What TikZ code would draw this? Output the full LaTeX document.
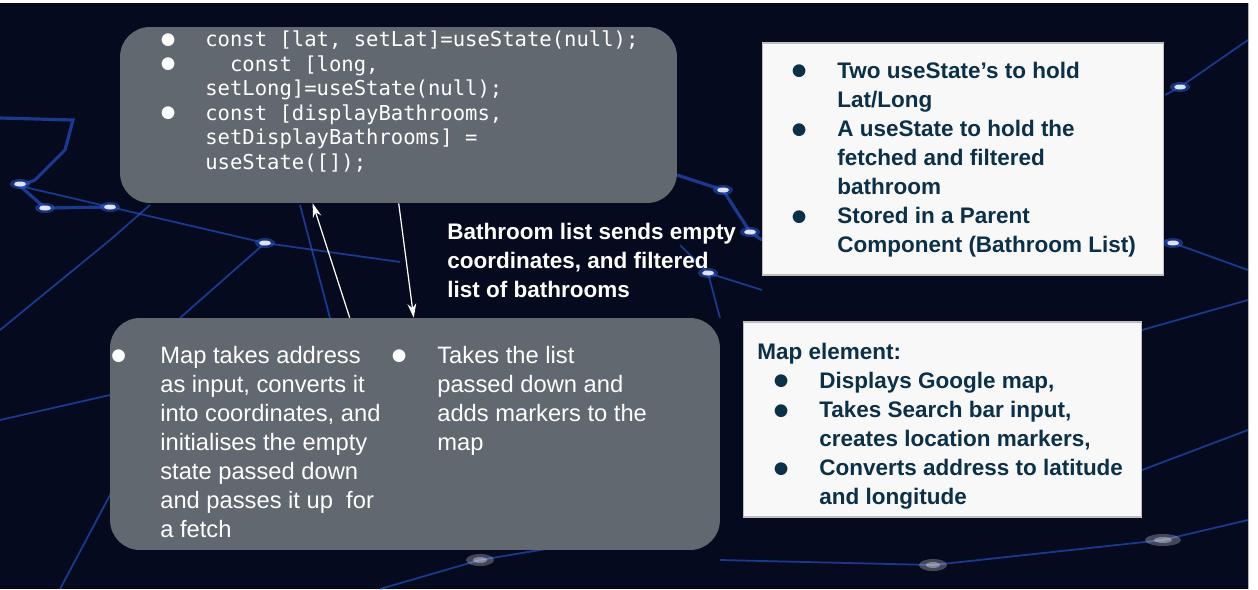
\documentclass[tikz,border=0pt]{standalone}
\usepackage{fontspec}
\setmainfont{Liberation Sans}
\newfontfamily\codefont{DejaVu Sans Mono}
\newfontfamily\dotfont{DejaVu Sans}
\usepackage{array}
\usetikzlibrary{arrows.meta, calc}
\definecolor{night}{HTML}{050A1F}
\definecolor{slate}{HTML}{62686F}
\definecolor{paper}{HTML}{F8F8F8}
\definecolor{ink}{HTML}{0D3049}
\definecolor{wire}{HTML}{2A5BD8}
\newcommand{\listbul}{\raisebox{1.3pt}{\dotfont\fontsize{9.5pt}{9.5pt}\selectfont ●}}

\begin{document}
\begin{tikzpicture}[x=0.02cm, y=-0.02cm,
    slatebox/.style={fill=slate, rounded corners=17pt, inner sep=0pt},
    paperbox/.style={fill=paper, draw=black!25, line width=0.6pt, inner sep=0pt},
    listtext/.style={anchor=base west, inner sep=0pt},
    codetext/.style={listtext, text=white, font=\codefont\fontsize{11.7pt}{13.95pt}\selectfont},
    notetext/.style={listtext, text=ink, font=\bfseries\fontsize{12.8pt}{16.6pt}\selectfont},
    maptext/.style={listtext, text=white, font=\fontsize{13.5pt}{16.55pt}\selectfont},
    wires/.style={wire, opacity=0.6, line width=1pt},
    glow/.style={white, opacity=0.85}]
    \useasboundingbox (0,0) rectangle (1258,589);
    \fill[white] (0,0) rectangle (1258,589);
    \fill[night] (0,3) rectangle (1248,589);
    \draw[black!30, line width=0.6pt] (1248.5,3) -- (1248.5,589);

    \draw[wires, line width=1.8pt] (0,118) -- (73,120) -- (65,150) -- (35,180) -- (20,186) -- (45,208) -- (110,207);
    \draw[wires] (20,186) -- (110,207) -- (265,243) -- (400,262);
    \draw[wires] (0,330) -- (110,240) -- (150,205);
    \draw[wires] (60,589) -- (150,420);
    \draw[wires] (0,420) -- (110,395);
    \draw[wires] (300,205) -- (330,318);
    \draw[wires] (265,243) -- (180,318);
    \draw[wires] (680,245) -- (708,273) -- (762,290);
    \draw[wires, line width=1.8pt] (677,175) -- (723,190) -- (750,232) -- (762,240);
    \draw[wires] (708,273) -- (720,318);
    \draw[wires] (1165,95) -- (1180,87) -- (1248,40);
    \draw[wires] (1165,240) -- (1173,243) -- (1248,270);
    \draw[wires] (1142,330) -- (1248,300);
    \draw[wires] (1142,470) -- (1248,430);
    \draw[wires] (720,560) -- (933,565) -- (1163,540) -- (1248,520);
    \draw[wires] (380,589) -- (480,560) -- (720,520);
    \foreach \gx/\gy in {20/184, 45/208, 110/207, 265/243, 723/190, 750/232, 708/273, 1180/87, 1173/243} {
        \fill[wire, opacity=0.5] (\gx,\gy) ellipse [x radius=10, y radius=5];
        \fill[glow] (\gx,\gy) ellipse [x radius=6, y radius=2.5];
    }
    \foreach \gx/\gy/\gr in {933/565/14, 1163/540/18, 480/560/14} {
        \fill[white, opacity=0.25] (\gx,\gy) ellipse [x radius=\gr, y radius=6];
        \fill[white, opacity=0.35] (\gx,\gy) ellipse [x radius=\gr/2, y radius=3];
    }

    \node[slatebox, minimum width=11.14cm, minimum height=3.52cm] (statebox) at (398.5,115) {};
    \node[slatebox, minimum width=12.2cm, minimum height=4.64cm] (mapbox) at (415,434) {};
    \node[paperbox, minimum width=8.04cm, minimum height=4.64cm] (parentnote) at (963,159) {};
    \node[paperbox, minimum width=7.98cm, minimum height=3.9cm] (mapnote) at (942.5,419.5) {};

    \draw[white, line width=0.7pt, -{Stealth[length=8pt, width=5pt]}] ($(mapbox.north west)+(240,0)$) -- ($(statebox.south west)+(193,0)$);
    \draw[white, line width=0.7pt, -{Stealth[length=8pt, width=5pt]}] ($(statebox.south west)+(279,0)$) -- ($(mapbox.north west)+(304,0)$);

    \node[codetext] (statecode) at (160.5,46.5) {\begin{tabular}[t]{@{}p{0.89cm}@{}l@{}}
        \listbul & const [lat, setLat]=useState(null);\\
        \listbul & \ \ const [long,\\
        & setLong]=useState(null);\\
        \listbul & const [displayBathrooms,\\
        & setDisplayBathrooms] =\\
        & useState([]);
    \end{tabular}};

    \node[notetext] (parenttext) at (791.5,78) {\begin{tabular}[t]{@{}p{0.91cm}@{}l@{}}
        \listbul & Two useState’s to hold\\
        & Lat/Long\\
        \listbul & A useState to hold the\\
        & fetched and filtered\\
        & bathroom\\
        \listbul & Stored in a Parent\\
        & Component (Bathroom List)
    \end{tabular}};

    \node[notetext, text=white] (sendlabel) at (447,239) {\begin{tabular}[t]{@{}l@{}}
        Bathroom list sends empty\\
        coordinates, and filtered\\
        list of bathrooms
    \end{tabular}};

    \node[maptext] (maptextleft) at (111,363) {\begin{tabular}[t]{@{}p{0.98cm}@{}l@{}}
        \listbul & Map takes address\\
        & as input, converts it\\
        & into coordinates, and\\
        & initialises the empty\\
        & state passed down\\
        & and passes it up\ \ for\\
        & a fetch
    \end{tabular}};

    \node[maptext] (maptextright) at (391.5,363) {\begin{tabular}[t]{@{}p{0.91cm}@{}l@{}}
        \listbul & Takes the list\\
        & passed down and\\
        & adds markers to the\\
        & map
    \end{tabular}};

    \node[notetext] (maptextnote) at (757,359) {\begin{tabular}[t]{@{\hspace{0.33cm}}p{0.91cm}@{}l@{}}
        \multicolumn{2}{@{}l@{}}{Map element:}\\
        \listbul & Displays Google map,\\
        \listbul & Takes Search bar input,\\
        & creates location markers,\\
        \listbul & Converts address to latitude\\
        & and longitude
    \end{tabular}};
\end{tikzpicture}
\end{document}
